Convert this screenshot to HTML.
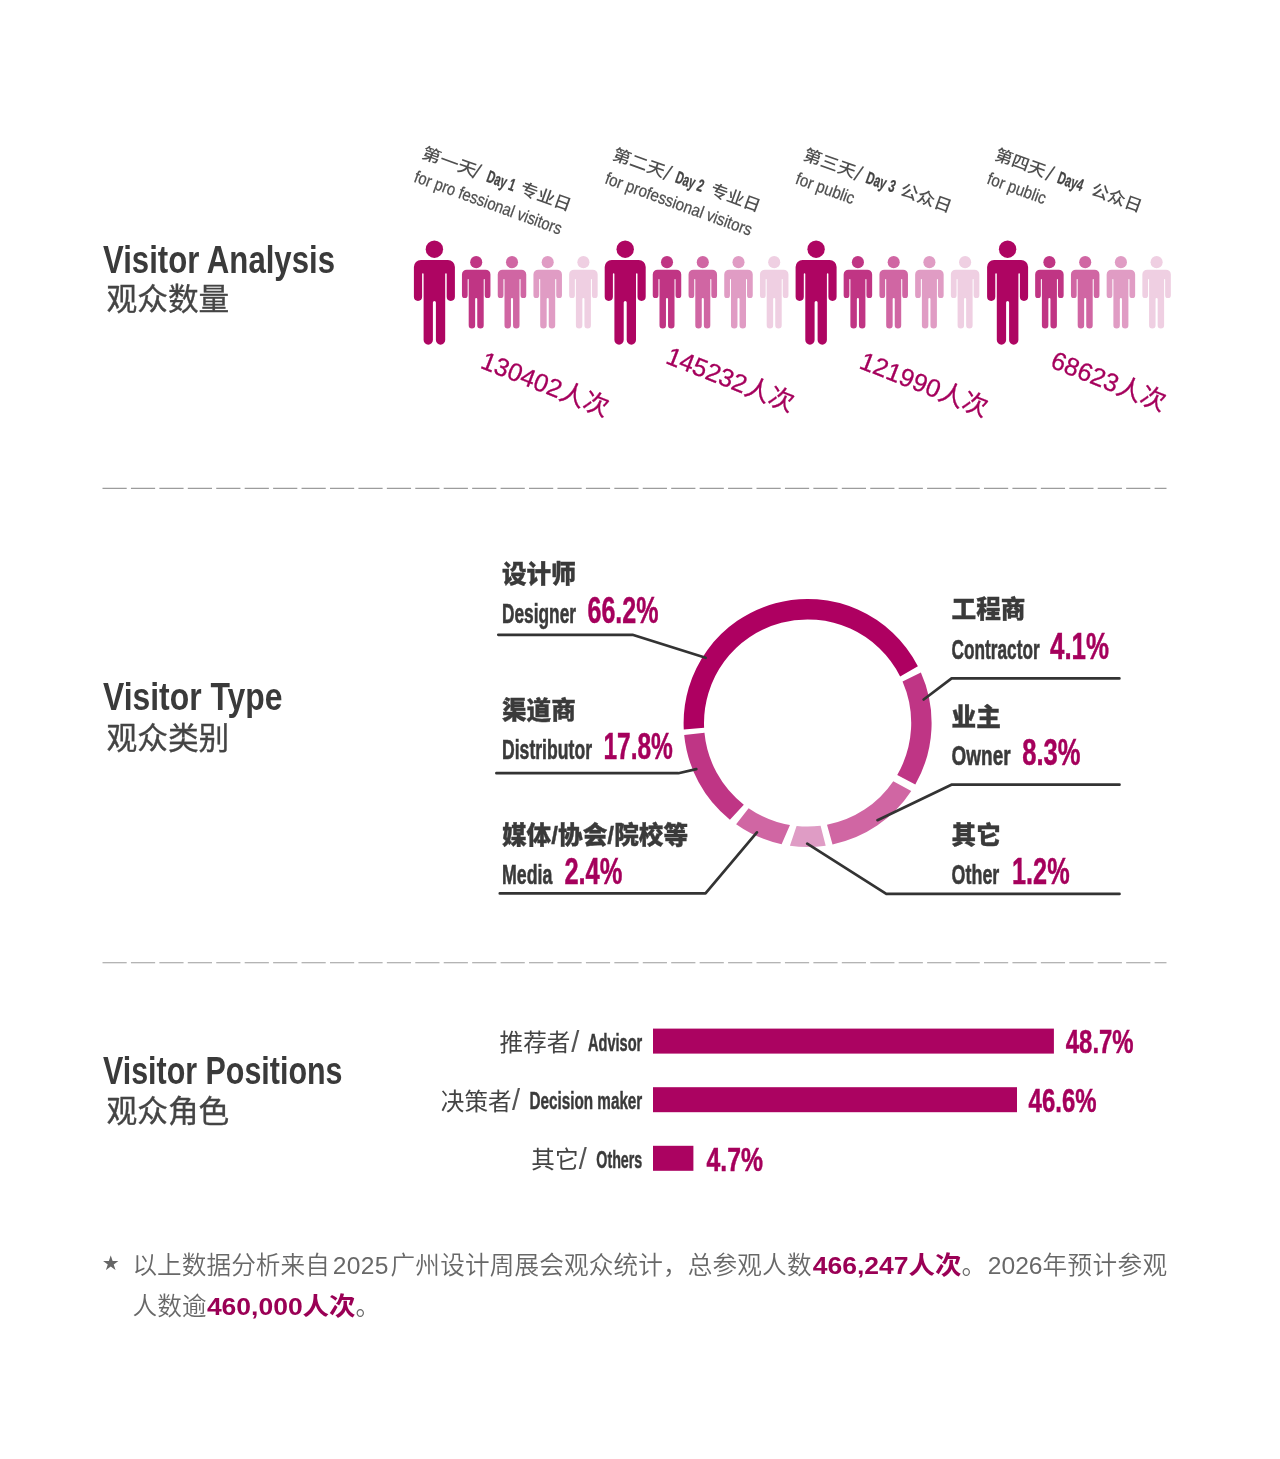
<!DOCTYPE html>
<html lang="zh-CN">
<head>
<meta charset="utf-8">
<title>Visitor Analysis</title>
<style>
html,body{margin:0;padding:0;background:#fff;}
body{width:1280px;height:1459px;overflow:hidden;font-family:"Liberation Sans", "Noto Sans CJK SC", sans-serif;}
svg{display:block;}
svg text{font-family:"Liberation Sans", "Noto Sans CJK SC", sans-serif;white-space:pre;}
</style>
</head>
<body>
<svg width="1280" height="1459" viewBox="0 0 1280 1459">
<rect width="1280" height="1459" fill="#ffffff"/>

<text x="103" y="272.8" font-size="38.6" font-weight="700" fill="#3a3a3a" textLength="232" lengthAdjust="spacingAndGlyphs">Visitor Analysis</text>
<text x="106.5" y="309.8" font-size="30.7" font-weight="400" fill="#444" stroke="#444" stroke-width="0.35">观众数量</text>
<text x="103" y="710.0" font-size="38.6" font-weight="700" fill="#3a3a3a" textLength="179.5" lengthAdjust="spacingAndGlyphs">Visitor Type</text>
<text x="106.5" y="749.3" font-size="30.7" font-weight="400" fill="#444" stroke="#444" stroke-width="0.35">观众类别</text>
<text x="103" y="1084.0" font-size="38.6" font-weight="700" fill="#3a3a3a" textLength="239.5" lengthAdjust="spacingAndGlyphs">Visitor Positions</text>
<text x="106.5" y="1121.6" font-size="30.7" font-weight="400" fill="#444" stroke="#444" stroke-width="0.35">观众角色</text>
<line x1="102.5" y1="488.4" x2="1166.5" y2="488.4" stroke="#9c9c9c" stroke-width="1.15" stroke-dasharray="24.2 4.235"/>
<line x1="102.5" y1="962.7" x2="1166.5" y2="962.7" stroke="#9c9c9c" stroke-width="1.15" stroke-dasharray="24.2 4.235"/>
<g transform="translate(434.4,241.1)" fill="#ae0562"><circle cx="0" cy="8.1" r="8.7"/><path d="M -13.5,18.9 H 13.5 A7,7 0 0 1 20.5,25.9 V 55.7 A4.1,4.1 0 0 1 12.3,55.7 V 33 A0.75,0.75 0 0 0 10.8,33 V 98.9 A4.65,4.65 0 0 1 1.5,98.9 V 61.3 A1.5,1.5 0 0 0 -1.5,61.3 V 98.9 A4.65,4.65 0 0 1 -10.8,98.9 V 33 A0.75,0.75 0 0 0 -12.3,33 V 55.7 A4.1,4.1 0 0 1 -20.5,55.7 V 25.9 A7,7 0 0 1 -13.5,18.9 Z"/></g>
<g transform="translate(476.2,256.5) scale(0.695)" fill="#c03584"><circle cx="0" cy="8.1" r="8.7"/><path d="M -13.5,18.9 H 13.5 A7,7 0 0 1 20.5,25.9 V 55.7 A4.1,4.1 0 0 1 12.3,55.7 V 33 A0.75,0.75 0 0 0 10.8,33 V 98.9 A4.65,4.65 0 0 1 1.5,98.9 V 61.3 A1.5,1.5 0 0 0 -1.5,61.3 V 98.9 A4.65,4.65 0 0 1 -10.8,98.9 V 33 A0.75,0.75 0 0 0 -12.3,33 V 55.7 A4.1,4.1 0 0 1 -20.5,55.7 V 25.9 A7,7 0 0 1 -13.5,18.9 Z"/></g>
<g transform="translate(512.0,256.5) scale(0.695)" fill="#d066a3"><circle cx="0" cy="8.1" r="8.7"/><path d="M -13.5,18.9 H 13.5 A7,7 0 0 1 20.5,25.9 V 55.7 A4.1,4.1 0 0 1 12.3,55.7 V 33 A0.75,0.75 0 0 0 10.8,33 V 98.9 A4.65,4.65 0 0 1 1.5,98.9 V 61.3 A1.5,1.5 0 0 0 -1.5,61.3 V 98.9 A4.65,4.65 0 0 1 -10.8,98.9 V 33 A0.75,0.75 0 0 0 -12.3,33 V 55.7 A4.1,4.1 0 0 1 -20.5,55.7 V 25.9 A7,7 0 0 1 -13.5,18.9 Z"/></g>
<g transform="translate(547.7,256.5) scale(0.695)" fill="#e09cc4"><circle cx="0" cy="8.1" r="8.7"/><path d="M -13.5,18.9 H 13.5 A7,7 0 0 1 20.5,25.9 V 55.7 A4.1,4.1 0 0 1 12.3,55.7 V 33 A0.75,0.75 0 0 0 10.8,33 V 98.9 A4.65,4.65 0 0 1 1.5,98.9 V 61.3 A1.5,1.5 0 0 0 -1.5,61.3 V 98.9 A4.65,4.65 0 0 1 -10.8,98.9 V 33 A0.75,0.75 0 0 0 -12.3,33 V 55.7 A4.1,4.1 0 0 1 -20.5,55.7 V 25.9 A7,7 0 0 1 -13.5,18.9 Z"/></g>
<g transform="translate(583.4,256.5) scale(0.695)" fill="#efcfe2"><circle cx="0" cy="8.1" r="8.7"/><path d="M -13.5,18.9 H 13.5 A7,7 0 0 1 20.5,25.9 V 55.7 A4.1,4.1 0 0 1 12.3,55.7 V 33 A0.75,0.75 0 0 0 10.8,33 V 98.9 A4.65,4.65 0 0 1 1.5,98.9 V 61.3 A1.5,1.5 0 0 0 -1.5,61.3 V 98.9 A4.65,4.65 0 0 1 -10.8,98.9 V 33 A0.75,0.75 0 0 0 -12.3,33 V 55.7 A4.1,4.1 0 0 1 -20.5,55.7 V 25.9 A7,7 0 0 1 -13.5,18.9 Z"/></g>
<g transform="translate(625.2,241.1)" fill="#ae0562"><circle cx="0" cy="8.1" r="8.7"/><path d="M -13.5,18.9 H 13.5 A7,7 0 0 1 20.5,25.9 V 55.7 A4.1,4.1 0 0 1 12.3,55.7 V 33 A0.75,0.75 0 0 0 10.8,33 V 98.9 A4.65,4.65 0 0 1 1.5,98.9 V 61.3 A1.5,1.5 0 0 0 -1.5,61.3 V 98.9 A4.65,4.65 0 0 1 -10.8,98.9 V 33 A0.75,0.75 0 0 0 -12.3,33 V 55.7 A4.1,4.1 0 0 1 -20.5,55.7 V 25.9 A7,7 0 0 1 -13.5,18.9 Z"/></g>
<g transform="translate(667.0,256.5) scale(0.695)" fill="#c03584"><circle cx="0" cy="8.1" r="8.7"/><path d="M -13.5,18.9 H 13.5 A7,7 0 0 1 20.5,25.9 V 55.7 A4.1,4.1 0 0 1 12.3,55.7 V 33 A0.75,0.75 0 0 0 10.8,33 V 98.9 A4.65,4.65 0 0 1 1.5,98.9 V 61.3 A1.5,1.5 0 0 0 -1.5,61.3 V 98.9 A4.65,4.65 0 0 1 -10.8,98.9 V 33 A0.75,0.75 0 0 0 -12.3,33 V 55.7 A4.1,4.1 0 0 1 -20.5,55.7 V 25.9 A7,7 0 0 1 -13.5,18.9 Z"/></g>
<g transform="translate(702.8,256.5) scale(0.695)" fill="#d066a3"><circle cx="0" cy="8.1" r="8.7"/><path d="M -13.5,18.9 H 13.5 A7,7 0 0 1 20.5,25.9 V 55.7 A4.1,4.1 0 0 1 12.3,55.7 V 33 A0.75,0.75 0 0 0 10.8,33 V 98.9 A4.65,4.65 0 0 1 1.5,98.9 V 61.3 A1.5,1.5 0 0 0 -1.5,61.3 V 98.9 A4.65,4.65 0 0 1 -10.8,98.9 V 33 A0.75,0.75 0 0 0 -12.3,33 V 55.7 A4.1,4.1 0 0 1 -20.5,55.7 V 25.9 A7,7 0 0 1 -13.5,18.9 Z"/></g>
<g transform="translate(738.5,256.5) scale(0.695)" fill="#e09cc4"><circle cx="0" cy="8.1" r="8.7"/><path d="M -13.5,18.9 H 13.5 A7,7 0 0 1 20.5,25.9 V 55.7 A4.1,4.1 0 0 1 12.3,55.7 V 33 A0.75,0.75 0 0 0 10.8,33 V 98.9 A4.65,4.65 0 0 1 1.5,98.9 V 61.3 A1.5,1.5 0 0 0 -1.5,61.3 V 98.9 A4.65,4.65 0 0 1 -10.8,98.9 V 33 A0.75,0.75 0 0 0 -12.3,33 V 55.7 A4.1,4.1 0 0 1 -20.5,55.7 V 25.9 A7,7 0 0 1 -13.5,18.9 Z"/></g>
<g transform="translate(774.2,256.5) scale(0.695)" fill="#efcfe2"><circle cx="0" cy="8.1" r="8.7"/><path d="M -13.5,18.9 H 13.5 A7,7 0 0 1 20.5,25.9 V 55.7 A4.1,4.1 0 0 1 12.3,55.7 V 33 A0.75,0.75 0 0 0 10.8,33 V 98.9 A4.65,4.65 0 0 1 1.5,98.9 V 61.3 A1.5,1.5 0 0 0 -1.5,61.3 V 98.9 A4.65,4.65 0 0 1 -10.8,98.9 V 33 A0.75,0.75 0 0 0 -12.3,33 V 55.7 A4.1,4.1 0 0 1 -20.5,55.7 V 25.9 A7,7 0 0 1 -13.5,18.9 Z"/></g>
<g transform="translate(816.1,241.1)" fill="#ae0562"><circle cx="0" cy="8.1" r="8.7"/><path d="M -13.5,18.9 H 13.5 A7,7 0 0 1 20.5,25.9 V 55.7 A4.1,4.1 0 0 1 12.3,55.7 V 33 A0.75,0.75 0 0 0 10.8,33 V 98.9 A4.65,4.65 0 0 1 1.5,98.9 V 61.3 A1.5,1.5 0 0 0 -1.5,61.3 V 98.9 A4.65,4.65 0 0 1 -10.8,98.9 V 33 A0.75,0.75 0 0 0 -12.3,33 V 55.7 A4.1,4.1 0 0 1 -20.5,55.7 V 25.9 A7,7 0 0 1 -13.5,18.9 Z"/></g>
<g transform="translate(857.9,256.5) scale(0.695)" fill="#c03584"><circle cx="0" cy="8.1" r="8.7"/><path d="M -13.5,18.9 H 13.5 A7,7 0 0 1 20.5,25.9 V 55.7 A4.1,4.1 0 0 1 12.3,55.7 V 33 A0.75,0.75 0 0 0 10.8,33 V 98.9 A4.65,4.65 0 0 1 1.5,98.9 V 61.3 A1.5,1.5 0 0 0 -1.5,61.3 V 98.9 A4.65,4.65 0 0 1 -10.8,98.9 V 33 A0.75,0.75 0 0 0 -12.3,33 V 55.7 A4.1,4.1 0 0 1 -20.5,55.7 V 25.9 A7,7 0 0 1 -13.5,18.9 Z"/></g>
<g transform="translate(893.7,256.5) scale(0.695)" fill="#d066a3"><circle cx="0" cy="8.1" r="8.7"/><path d="M -13.5,18.9 H 13.5 A7,7 0 0 1 20.5,25.9 V 55.7 A4.1,4.1 0 0 1 12.3,55.7 V 33 A0.75,0.75 0 0 0 10.8,33 V 98.9 A4.65,4.65 0 0 1 1.5,98.9 V 61.3 A1.5,1.5 0 0 0 -1.5,61.3 V 98.9 A4.65,4.65 0 0 1 -10.8,98.9 V 33 A0.75,0.75 0 0 0 -12.3,33 V 55.7 A4.1,4.1 0 0 1 -20.5,55.7 V 25.9 A7,7 0 0 1 -13.5,18.9 Z"/></g>
<g transform="translate(929.4,256.5) scale(0.695)" fill="#e09cc4"><circle cx="0" cy="8.1" r="8.7"/><path d="M -13.5,18.9 H 13.5 A7,7 0 0 1 20.5,25.9 V 55.7 A4.1,4.1 0 0 1 12.3,55.7 V 33 A0.75,0.75 0 0 0 10.8,33 V 98.9 A4.65,4.65 0 0 1 1.5,98.9 V 61.3 A1.5,1.5 0 0 0 -1.5,61.3 V 98.9 A4.65,4.65 0 0 1 -10.8,98.9 V 33 A0.75,0.75 0 0 0 -12.3,33 V 55.7 A4.1,4.1 0 0 1 -20.5,55.7 V 25.9 A7,7 0 0 1 -13.5,18.9 Z"/></g>
<g transform="translate(965.1,256.5) scale(0.695)" fill="#efcfe2"><circle cx="0" cy="8.1" r="8.7"/><path d="M -13.5,18.9 H 13.5 A7,7 0 0 1 20.5,25.9 V 55.7 A4.1,4.1 0 0 1 12.3,55.7 V 33 A0.75,0.75 0 0 0 10.8,33 V 98.9 A4.65,4.65 0 0 1 1.5,98.9 V 61.3 A1.5,1.5 0 0 0 -1.5,61.3 V 98.9 A4.65,4.65 0 0 1 -10.8,98.9 V 33 A0.75,0.75 0 0 0 -12.3,33 V 55.7 A4.1,4.1 0 0 1 -20.5,55.7 V 25.9 A7,7 0 0 1 -13.5,18.9 Z"/></g>
<g transform="translate(1007.6,241.1)" fill="#ae0562"><circle cx="0" cy="8.1" r="8.7"/><path d="M -13.5,18.9 H 13.5 A7,7 0 0 1 20.5,25.9 V 55.7 A4.1,4.1 0 0 1 12.3,55.7 V 33 A0.75,0.75 0 0 0 10.8,33 V 98.9 A4.65,4.65 0 0 1 1.5,98.9 V 61.3 A1.5,1.5 0 0 0 -1.5,61.3 V 98.9 A4.65,4.65 0 0 1 -10.8,98.9 V 33 A0.75,0.75 0 0 0 -12.3,33 V 55.7 A4.1,4.1 0 0 1 -20.5,55.7 V 25.9 A7,7 0 0 1 -13.5,18.9 Z"/></g>
<g transform="translate(1049.4,256.5) scale(0.695)" fill="#c03584"><circle cx="0" cy="8.1" r="8.7"/><path d="M -13.5,18.9 H 13.5 A7,7 0 0 1 20.5,25.9 V 55.7 A4.1,4.1 0 0 1 12.3,55.7 V 33 A0.75,0.75 0 0 0 10.8,33 V 98.9 A4.65,4.65 0 0 1 1.5,98.9 V 61.3 A1.5,1.5 0 0 0 -1.5,61.3 V 98.9 A4.65,4.65 0 0 1 -10.8,98.9 V 33 A0.75,0.75 0 0 0 -12.3,33 V 55.7 A4.1,4.1 0 0 1 -20.5,55.7 V 25.9 A7,7 0 0 1 -13.5,18.9 Z"/></g>
<g transform="translate(1085.2,256.5) scale(0.695)" fill="#d066a3"><circle cx="0" cy="8.1" r="8.7"/><path d="M -13.5,18.9 H 13.5 A7,7 0 0 1 20.5,25.9 V 55.7 A4.1,4.1 0 0 1 12.3,55.7 V 33 A0.75,0.75 0 0 0 10.8,33 V 98.9 A4.65,4.65 0 0 1 1.5,98.9 V 61.3 A1.5,1.5 0 0 0 -1.5,61.3 V 98.9 A4.65,4.65 0 0 1 -10.8,98.9 V 33 A0.75,0.75 0 0 0 -12.3,33 V 55.7 A4.1,4.1 0 0 1 -20.5,55.7 V 25.9 A7,7 0 0 1 -13.5,18.9 Z"/></g>
<g transform="translate(1120.9,256.5) scale(0.695)" fill="#e09cc4"><circle cx="0" cy="8.1" r="8.7"/><path d="M -13.5,18.9 H 13.5 A7,7 0 0 1 20.5,25.9 V 55.7 A4.1,4.1 0 0 1 12.3,55.7 V 33 A0.75,0.75 0 0 0 10.8,33 V 98.9 A4.65,4.65 0 0 1 1.5,98.9 V 61.3 A1.5,1.5 0 0 0 -1.5,61.3 V 98.9 A4.65,4.65 0 0 1 -10.8,98.9 V 33 A0.75,0.75 0 0 0 -12.3,33 V 55.7 A4.1,4.1 0 0 1 -20.5,55.7 V 25.9 A7,7 0 0 1 -13.5,18.9 Z"/></g>
<g transform="translate(1156.6,256.5) scale(0.695)" fill="#efcfe2"><circle cx="0" cy="8.1" r="8.7"/><path d="M -13.5,18.9 H 13.5 A7,7 0 0 1 20.5,25.9 V 55.7 A4.1,4.1 0 0 1 12.3,55.7 V 33 A0.75,0.75 0 0 0 10.8,33 V 98.9 A4.65,4.65 0 0 1 1.5,98.9 V 61.3 A1.5,1.5 0 0 0 -1.5,61.3 V 98.9 A4.65,4.65 0 0 1 -10.8,98.9 V 33 A0.75,0.75 0 0 0 -12.3,33 V 55.7 A4.1,4.1 0 0 1 -20.5,55.7 V 25.9 A7,7 0 0 1 -13.5,18.9 Z"/></g>
<g transform="translate(420.7,157.4) rotate(20)">
<g transform="scale(1.15,1)">
<text x="0" y="0" font-size="16.5" font-weight="500" fill="#4f4f4f">第一天</text>
</g>
<text x="54.8" y="1.8" font-size="22" font-weight="400" fill="#4f4f4f">/</text>
<text x="69.0" y="0.3" font-size="17.3" font-weight="700" fill="#444" textLength="29.5" lengthAdjust="spacingAndGlyphs" stroke="#444" stroke-width="0.3">Day 1</text>
<g transform="translate(104.7,0) scale(1.07,1)">
<text x="0" y="0" font-size="16.5" font-weight="500" fill="#4f4f4f">专业日</text>
</g>
<text x="1.1" y="25.2" font-size="17.2" font-weight="400" fill="#4f4f4f" textLength="155.7" lengthAdjust="spacingAndGlyphs" stroke="#4f4f4f" stroke-width="0.25">for pro fessional visitors</text>
</g>
<g transform="translate(479.2,367.5) rotate(21.5)">
<text x="0" y="0" font-size="25.3" font-weight="400" fill="#a5005c" stroke="#a5005c" stroke-width="0.3">130402人次</text>
</g>
<g transform="translate(611.5,158.9) rotate(20)">
<g transform="scale(1.1,1)">
<text x="0" y="0" font-size="16.5" font-weight="500" fill="#4f4f4f">第二天</text>
</g>
<text x="54.8" y="1.8" font-size="22" font-weight="400" fill="#4f4f4f">/</text>
<text x="66.8" y="0.3" font-size="17.3" font-weight="700" fill="#444" textLength="29.0" lengthAdjust="spacingAndGlyphs" stroke="#444" stroke-width="0.3">Day 2</text>
<g transform="translate(103.9,0) scale(1.05,1)">
<text x="0" y="0" font-size="16.5" font-weight="500" fill="#4f4f4f">专业日</text>
</g>
<text x="1.1" y="25.2" font-size="17.2" font-weight="400" fill="#4f4f4f" textLength="155.0" lengthAdjust="spacingAndGlyphs" stroke="#4f4f4f" stroke-width="0.25">for professional visitors</text>
</g>
<g transform="translate(664.4,362.7) rotate(21.5)">
<text x="0" y="0" font-size="25.3" font-weight="400" fill="#a5005c" stroke="#a5005c" stroke-width="0.3">145232人次</text>
</g>
<g transform="translate(802.2,159.3) rotate(20)">
<g transform="scale(1.1,1)">
<text x="0" y="0" font-size="16.5" font-weight="500" fill="#4f4f4f">第三天</text>
</g>
<text x="54.8" y="1.8" font-size="22" font-weight="400" fill="#4f4f4f">/</text>
<text x="66.8" y="0.3" font-size="17.3" font-weight="700" fill="#444" textLength="30.0" lengthAdjust="spacingAndGlyphs" stroke="#444" stroke-width="0.3">Day 3</text>
<g transform="translate(103.0,0) scale(1.085,1)">
<text x="0" y="0" font-size="16.5" font-weight="500" fill="#4f4f4f">公众日</text>
</g>
<text x="1.1" y="25.2" font-size="17.2" font-weight="400" fill="#4f4f4f" textLength="61.3" lengthAdjust="spacingAndGlyphs" stroke="#4f4f4f" stroke-width="0.25">for public</text>
</g>
<g transform="translate(858.1,367.7) rotate(21.5)">
<text x="0" y="0" font-size="25.3" font-weight="400" fill="#a5005c" stroke="#a5005c" stroke-width="0.3">121990人次</text>
</g>
<g transform="translate(993.7,159.3) rotate(20)">
<g transform="scale(1.07,1)">
<text x="0" y="0" font-size="16.5" font-weight="500" fill="#4f4f4f">第四天</text>
</g>
<text x="54.8" y="1.8" font-size="22" font-weight="400" fill="#4f4f4f">/</text>
<text x="66.8" y="0.3" font-size="17.3" font-weight="700" fill="#444" textLength="26.3" lengthAdjust="spacingAndGlyphs" stroke="#444" stroke-width="0.3">Day4</text>
<g transform="translate(102.4,0) scale(1.07,1)">
<text x="0" y="0" font-size="16.5" font-weight="500" fill="#4f4f4f">公众日</text>
</g>
<text x="1.1" y="25.2" font-size="17.2" font-weight="400" fill="#4f4f4f" textLength="61.2" lengthAdjust="spacingAndGlyphs" stroke="#4f4f4f" stroke-width="0.25">for public</text>
</g>
<g transform="translate(1049.2,367.1) rotate(21.5)">
<text x="0" y="0" font-size="25.3" font-weight="400" fill="#a5005c" stroke="#a5005c" stroke-width="0.3">68623人次</text>
</g>
<path d="M683.77,729.40 A124.0,124.0 0 0 1 917.89,666.32 L900.15,676.45 A103.6,103.6 0 0 0 704.11,727.70 Z" fill="#ae0061"/>
<path d="M920.88,672.56 A124.0,124.0 0 0 1 915.31,784.44 L897.23,774.96 A103.6,103.6 0 0 0 902.54,681.52 Z" fill="#bf3585"/>
<path d="M911.24,791.08 A124.0,124.0 0 0 1 832.53,844.47 L827.01,824.76 A103.6,103.6 0 0 0 893.29,781.23 Z" fill="#d066a3"/>
<path d="M825.71,845.67 A124.0,124.0 0 0 1 789.91,845.73 L796.59,826.01 A103.6,103.6 0 0 0 820.58,825.78 Z" fill="#df9cc5"/>
<path d="M781.61,844.25 A124.0,124.0 0 0 1 736.12,824.33 L748.62,808.17 A103.6,103.6 0 0 0 789.97,825.09 Z" fill="#d066a3"/>
<path d="M729.90,819.64 A124.0,124.0 0 0 1 684.19,735.10 L704.46,732.80 A103.6,103.6 0 0 0 743.82,804.64 Z" fill="#bf3585"/>
<polyline points="498.3,634.8 632.5,634.8 705.6,657.8" fill="none" stroke="#333" stroke-width="2.7" stroke-linejoin="round" stroke-linecap="round"/>
<polyline points="496.4,773.2 678.4,773.2 696.3,769.1" fill="none" stroke="#333" stroke-width="2.7" stroke-linejoin="round" stroke-linecap="round"/>
<polyline points="499.8,893.4 705.5,893.4 756.9,832.4" fill="none" stroke="#333" stroke-width="2.7" stroke-linejoin="round" stroke-linecap="round"/>
<polyline points="1119.4,678.4 951.6,678.4 923.7,699.5" fill="none" stroke="#333" stroke-width="2.7" stroke-linejoin="round" stroke-linecap="round"/>
<polyline points="1119.5,784.7 951.4,784.7 877.5,820.2" fill="none" stroke="#333" stroke-width="2.7" stroke-linejoin="round" stroke-linecap="round"/>
<polyline points="1119.5,893.9 886.3,893.9 807.2,843.7" fill="none" stroke="#333" stroke-width="2.7" stroke-linejoin="round" stroke-linecap="round"/>
<text x="502" y="583" font-size="24.6" font-weight="900" fill="#3a3a3a" stroke="#3a3a3a" stroke-width="0.35">设计师</text>
<text x="502" y="623.25" font-size="28.3" font-weight="700" fill="#3a3a3a" textLength="74" lengthAdjust="spacingAndGlyphs" stroke="#3a3a3a" stroke-width="0.6">Designer</text>
<text x="587.5" y="623.25" font-size="36.9" font-weight="700" fill="#a5005c" textLength="71" lengthAdjust="spacingAndGlyphs" stroke="#a5005c" stroke-width="0.5">66.2%</text>
<text x="502" y="718.5" font-size="24.6" font-weight="900" fill="#3a3a3a" stroke="#3a3a3a" stroke-width="0.35">渠道商</text>
<text x="502" y="759.25" font-size="28.3" font-weight="700" fill="#3a3a3a" textLength="90" lengthAdjust="spacingAndGlyphs" stroke="#3a3a3a" stroke-width="0.6">Distributor</text>
<text x="603.4" y="759.25" font-size="36.9" font-weight="700" fill="#a5005c" textLength="69.5" lengthAdjust="spacingAndGlyphs" stroke="#a5005c" stroke-width="0.5">17.8%</text>
<text x="502" y="844" font-size="24.6" font-weight="900" fill="#3a3a3a" textLength="186" lengthAdjust="spacingAndGlyphs" stroke="#3a3a3a" stroke-width="0.35">媒体/协会/院校等</text>
<text x="502" y="884.3" font-size="28.3" font-weight="700" fill="#3a3a3a" textLength="50.3" lengthAdjust="spacingAndGlyphs" stroke="#3a3a3a" stroke-width="0.6">Media</text>
<text x="564.4" y="884.3" font-size="36.9" font-weight="700" fill="#a5005c" textLength="58" lengthAdjust="spacingAndGlyphs" stroke="#a5005c" stroke-width="0.5">2.4%</text>
<text x="951.6" y="618" font-size="24.6" font-weight="900" fill="#3a3a3a" stroke="#3a3a3a" stroke-width="0.35">工程商</text>
<text x="951.6" y="658.9" font-size="28.3" font-weight="700" fill="#3a3a3a" textLength="88" lengthAdjust="spacingAndGlyphs" stroke="#3a3a3a" stroke-width="0.6">Contractor</text>
<text x="1050" y="658.9" font-size="36.9" font-weight="700" fill="#a5005c" textLength="59" lengthAdjust="spacingAndGlyphs" stroke="#a5005c" stroke-width="0.5">4.1%</text>
<text x="951.6" y="725.5" font-size="24.6" font-weight="900" fill="#3a3a3a" stroke="#3a3a3a" stroke-width="0.35">业主</text>
<text x="951.6" y="764.9" font-size="28.3" font-weight="700" fill="#3a3a3a" textLength="59" lengthAdjust="spacingAndGlyphs" stroke="#3a3a3a" stroke-width="0.6">Owner</text>
<text x="1022.3" y="764.9" font-size="36.9" font-weight="700" fill="#a5005c" textLength="58.2" lengthAdjust="spacingAndGlyphs" stroke="#a5005c" stroke-width="0.5">8.3%</text>
<text x="951.6" y="843.5" font-size="24.6" font-weight="900" fill="#3a3a3a" stroke="#3a3a3a" stroke-width="0.35">其它</text>
<text x="951.6" y="883.9" font-size="28.3" font-weight="700" fill="#3a3a3a" textLength="47.7" lengthAdjust="spacingAndGlyphs" stroke="#3a3a3a" stroke-width="0.6">Other</text>
<text x="1012" y="883.9" font-size="36.9" font-weight="700" fill="#a5005c" textLength="57.6" lengthAdjust="spacingAndGlyphs" stroke="#a5005c" stroke-width="0.5">1.2%</text>
<rect x="653" y="1028.6" width="400.9" height="25" fill="#ab0361"/>
<text x="1065.8" y="1053.3999999999999" font-size="34" font-weight="700" fill="#a5005c" textLength="67.8" lengthAdjust="spacingAndGlyphs" stroke="#a5005c" stroke-width="0.5">48.7%</text>
<text x="642.3" y="1050.8" font-size="23.3" font-weight="700" fill="#3a3a3a" textLength="54.3" lengthAdjust="spacingAndGlyphs" text-anchor="end" stroke="#3a3a3a" stroke-width="0.45">Advisor</text>
<text x="499.6" y="1050.8999999999999" font-size="23.6" font-weight="400" fill="#444">推荐者</text>
<text x="571.2" y="1051.8" font-size="29" font-weight="400" fill="#555">/</text>
<rect x="653" y="1087.2" width="364.0" height="25" fill="#ab0361"/>
<text x="1028.6" y="1112.0" font-size="34" font-weight="700" fill="#a5005c" textLength="67.9" lengthAdjust="spacingAndGlyphs" stroke="#a5005c" stroke-width="0.5">46.6%</text>
<text x="642.3" y="1109.4" font-size="23.3" font-weight="700" fill="#3a3a3a" textLength="112.8" lengthAdjust="spacingAndGlyphs" text-anchor="end" stroke="#3a3a3a" stroke-width="0.45">Decision maker</text>
<text x="440.8" y="1109.5" font-size="23.6" font-weight="400" fill="#444">决策者</text>
<text x="512.0" y="1110.4" font-size="29" font-weight="400" fill="#555">/</text>
<rect x="653" y="1145.8" width="40.4" height="25" fill="#ab0361"/>
<text x="706.5" y="1170.6" font-size="34" font-weight="700" fill="#a5005c" textLength="56.4" lengthAdjust="spacingAndGlyphs" stroke="#a5005c" stroke-width="0.5">4.7%</text>
<text x="642.3" y="1168.0" font-size="23.3" font-weight="700" fill="#3a3a3a" textLength="46" lengthAdjust="spacingAndGlyphs" text-anchor="end" stroke="#3a3a3a" stroke-width="0.45">Others</text>
<text x="531.3" y="1168.1" font-size="23.6" font-weight="400" fill="#444">其它</text>
<text x="578.8" y="1169.0" font-size="29" font-weight="400" fill="#555">/</text>
<text x="102.5" y="1269" font-size="16.5" fill="#666">★</text>
<text x="132.4" y="1273.6" font-size="24.6" font-weight="350" fill="#686868" textLength="197.4" lengthAdjust="spacing">以上数据分析来自</text>
<text x="332.8" y="1273.6" font-size="24.6" font-weight="350" fill="#686868" textLength="55.6" lengthAdjust="spacing">2025</text>
<text x="390.6" y="1273.6" font-size="24.6" font-weight="350" fill="#686868" textLength="420.9" lengthAdjust="spacing">广州设计周展会观众统计，总参观人数</text>
<text x="812.8" y="1273.6" font-size="24.6" font-weight="700" fill="#9a0055" textLength="148.7" lengthAdjust="spacingAndGlyphs">466,247人次</text>
<text x="961.5" y="1273.6" font-size="24.6" font-weight="350" fill="#686868">。</text>
<text x="987.8" y="1273.6" font-size="24.6" font-weight="350" fill="#686868" textLength="54.7" lengthAdjust="spacing">2026</text>
<text x="1042.5" y="1273.6" font-size="24.6" font-weight="350" fill="#686868" textLength="124.5" lengthAdjust="spacing">年预计参观</text>
<text x="132.4" y="1315.2" font-size="24.6" font-weight="350" fill="#686868" textLength="74.2" lengthAdjust="spacing">人数逾</text>
<text x="206.9" y="1315.2" font-size="24.6" font-weight="700" fill="#9a0055" textLength="148.7" lengthAdjust="spacingAndGlyphs">460,000人次</text>
<text x="355.6" y="1315.2" font-size="24.6" font-weight="350" fill="#686868">。</text>
</svg>
</body>
</html>
